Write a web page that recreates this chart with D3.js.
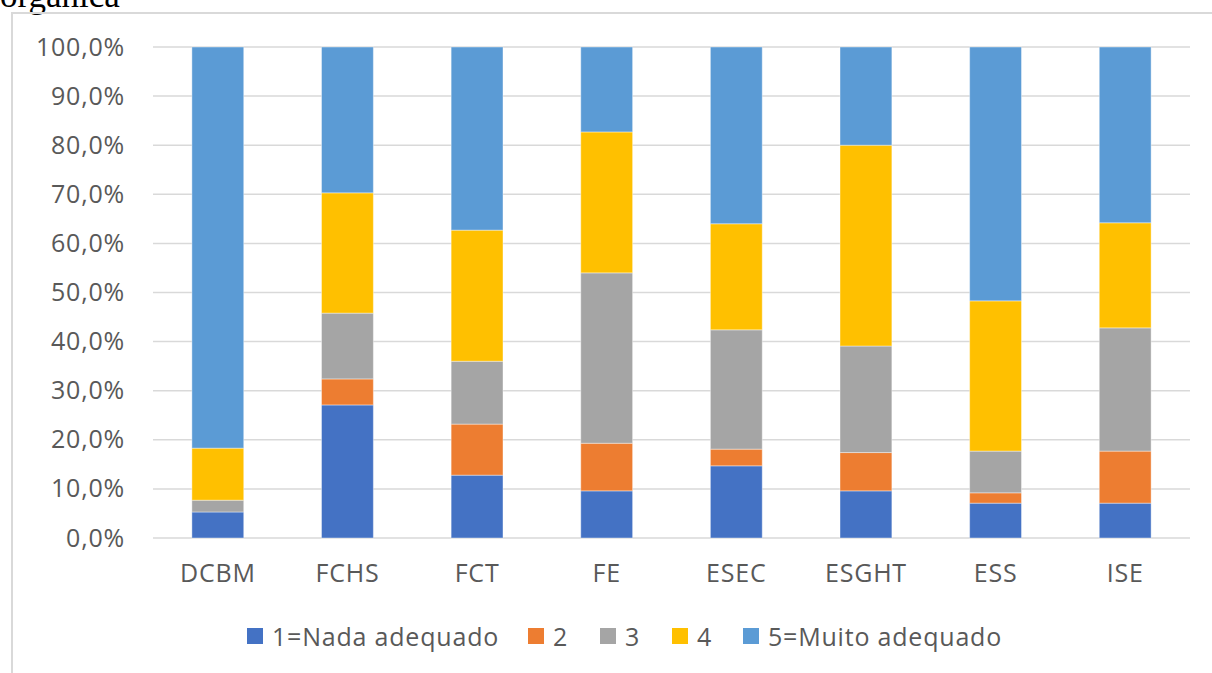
<!DOCTYPE html>
<html>
<head>
<meta charset="utf-8">
<script src="https://cdn.jsdelivr.net/npm/d3@7"></script>
<style>
  body { margin: 0; background: #fff; }
  svg { display: block; }
</style>
</head>
<body>
<script>
var categories = ["DCBM", "FCHS", "FCT", "FE", "ESEC", "ESGHT", "ESS", "ISE"];
var seriesNames = ["1=Nada adequado", "2", "3", "4", "5=Muito adequado"];
var s1 = [5.3, 27.1, 12.8, 9.6, 14.7, 9.6, 7.1, 7.1];
var s2 = [0.0, 5.3, 10.4, 9.7, 3.4, 7.8, 2.1, 10.6];
var s3 = [2.4, 13.4, 12.8, 34.7, 24.3, 21.7, 8.5, 25.1];
var s4 = [10.6, 24.5, 26.7, 28.7, 21.6, 40.9, 30.6, 21.4];
var s5 = [81.7, 29.7, 37.3, 17.3, 36.0, 20.0, 51.7, 35.8];
var yTicks = [0, 10, 20, 30, 40, 50, 60, 70, 80, 90, 100];
var colors = ["#4472C4", "#ED7D31", "#A5A5A5", "#FFC000", "#5B9BD5"];

var W = 1212, H = 673;
var font = "Open Sans, Liberation Sans, sans-serif";
var svg = d3.select("body").append("svg").attr("width", W).attr("height", H);

// caption fragment cut at the top (as in the source page)
svg.append("text")
  .attr("x", 0).attr("y", 7)
  .attr("font-family", "Liberation Serif, Times New Roman, serif")
  .attr("font-size", 35)
  .attr("fill", "#000")
  .text("orgânica");

// chart frame
svg.append("path")
  .attr("d", "M12,673 V13 H1212")
  .attr("fill", "none")
  .attr("stroke", "#d9d9d9")
  .attr("stroke-width", 2);

var rows = categories.map(function(c, i) {
  return {cat: c, s0: s1[i], s1: s2[i], s2: s3[i], s3: s4[i], s4: s5[i]};
});
var keys = ["s0", "s1", "s2", "s3", "s4"];
var stacked = d3.stack().keys(keys)(rows);

var x = d3.scaleBand().domain(categories).range([153, 1190]).paddingInner(0.6).paddingOuter(0.3);
var y = d3.scaleLinear().domain([0, 100]).range([538, 47]);

var fmt = function(d) { return d3.format(".1f")(d).replace(".", ",") + "%"; };

// gridlines
svg.append("g").selectAll("line")
  .data(yTicks).enter().append("line")
  .attr("x1", 153).attr("x2", 1190)
  .attr("y1", function(d) { return y(d); })
  .attr("y2", function(d) { return y(d); })
  .attr("stroke", "#d9d9d9")
  .attr("stroke-width", 1.5);

// y axis
var yAxis = svg.append("g")
  .attr("transform", "translate(125,0)")
  .call(d3.axisLeft(y).tickValues(yTicks).tickFormat(fmt).tickSize(0).tickPadding(0));
yAxis.select(".domain").remove();
yAxis.selectAll("text")
  .attr("font-family", font)
  .attr("font-size", 25)
  .attr("letter-spacing", 0.8)
  .attr("fill", "#595959");

// x axis
var xAxis = svg.append("g")
  .attr("transform", "translate(0,538)")
  .call(d3.axisBottom(x).tickSize(0).tickPadding(26));
xAxis.select(".domain").remove();
xAxis.selectAll("text")
  .attr("font-family", font)
  .attr("font-size", 25)
  .attr("letter-spacing", 0.8)
  .attr("fill", "#595959");

// bars
svg.append("g").selectAll("g")
  .data(stacked).enter().append("g")
  .attr("fill", function(d, i) { return colors[i]; })
  .selectAll("rect")
  .data(function(d) { return d; }).enter().append("rect")
  .attr("x", function(d) { return x(d.data.cat); })
  .attr("width", x.bandwidth())
  .attr("y", function(d) { return y(d[1]); })
  .attr("height", function(d) { return Math.max(0, y(d[0]) - y(d[1])); })
  .attr("stroke", "#ffffff")
  .attr("stroke-opacity", 0.4)
  .attr("stroke-width", 1);

// legend
var legendX = [247, 528, 600, 672, 743];
var legend = svg.append("g").selectAll("g")
  .data(seriesNames).enter().append("g")
  .attr("transform", function(d, i) { return "translate(" + legendX[i] + ",628)"; });
legend.append("rect")
  .attr("width", 16).attr("height", 16)
  .attr("fill", function(d, i) { return colors[i]; });
legend.append("text")
  .attr("x", 25).attr("y", 8)
  .attr("dominant-baseline", "central")
  .attr("font-family", font)
  .attr("font-size", 25)
  .attr("letter-spacing", 0.8)
  .attr("fill", "#595959")
  .text(function(d) { return d; });
</script>
</body>
</html>
